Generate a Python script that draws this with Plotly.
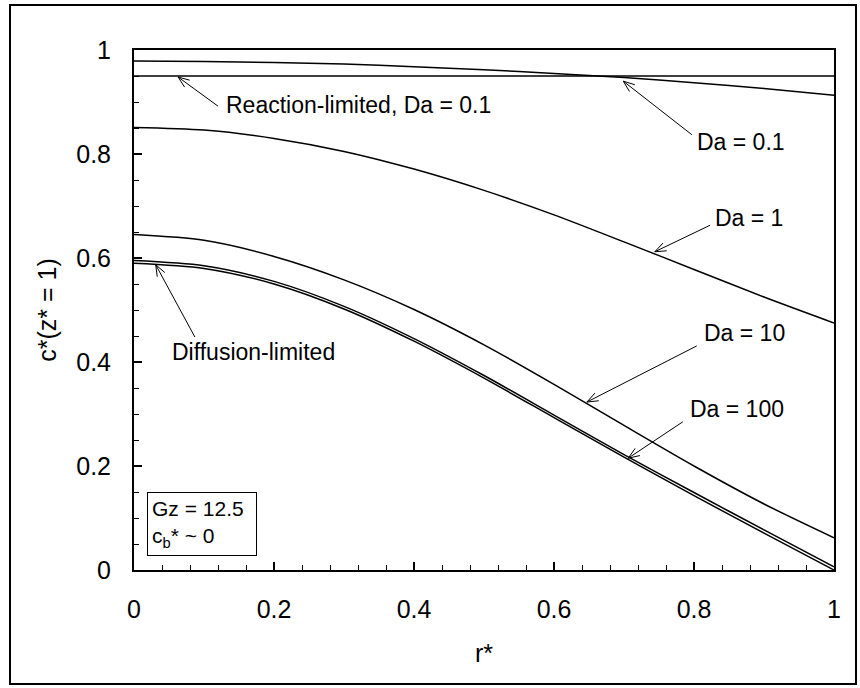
import math
import plotly.graph_objects as go

# ---------------- data ----------------
r_star = [0.0, 0.1, 0.2, 0.3, 0.4, 0.5, 0.6, 0.7, 0.8, 0.9, 1.0]
reaction_limited = [0.95, 0.95, 0.95, 0.95, 0.95, 0.95, 0.95, 0.95, 0.95, 0.95, 0.95]
da_0_1 = [0.979, 0.978, 0.976, 0.973, 0.968, 0.962, 0.955, 0.947, 0.937, 0.926, 0.913]
da_1 = [0.851, 0.846, 0.830, 0.805, 0.771, 0.730, 0.683, 0.631, 0.578, 0.525, 0.475]
da_10 = [0.645, 0.634, 0.603, 0.558, 0.501, 0.433, 0.357, 0.278, 0.200, 0.127, 0.062]
da_100 = [0.595, 0.585, 0.555, 0.507, 0.445, 0.374, 0.298, 0.222, 0.149, 0.077, 0.006]
diffusion_limited = [0.590, 0.580, 0.550, 0.502, 0.440, 0.369, 0.293, 0.217, 0.143, 0.071, 0.0]

x_ticks = [0, 0.2, 0.4, 0.6, 0.8, 1]
x_tick_labels = ["0", "0.2", "0.4", "0.6", "0.8", "1"]
y_ticks = [0, 0.2, 0.4, 0.6, 0.8, 1]
y_tick_labels = ["0", "0.2", "0.4", "0.6", "0.8", "1"]

# annotation labels and their arrows
labels = ["Reaction-limited, Da = 0.1", "Da = 0.1", "Da = 1", "Da = 10", "Da = 100", "Diffusion-limited"]
label_r = [0.128, 0.801, 0.827, 0.811, 0.791, 0.051]
label_c = [0.894, 0.824, 0.676, 0.456, 0.310, 0.419]
tail_r = [0.120, 0.797, 0.823, 0.804, 0.784, 0.087]
tail_c = [0.892, 0.837, 0.663, 0.431, 0.285, 0.448]
tip_r = [0.063, 0.699, 0.744, 0.647, 0.706, 0.031]
tip_c = [0.948, 0.940, 0.612, 0.323, 0.215, 0.587]

box_text = "Gz = 12.5<br>c<sub>b</sub>* ~ 0"

# ---------------- figure ----------------
W, H = 860, 688
L, R, T, B = 134, 26, 50, 118
pw, ph = W - L - R, H - T - B
FONT = "Arial, Liberation Sans, sans-serif"
HEAD_LEN, HEAD_ANG = 12.0, math.radians(21)

fig = go.Figure()
for ys in [reaction_limited, da_0_1, da_1, da_10, da_100, diffusion_limited]:
    fig.add_trace(go.Scatter(x=r_star, y=ys, mode="lines",
                             line=dict(color="black", width=1.5, shape="spline", smoothing=0.8),
                             showlegend=False, hoverinfo="skip"))

annotations = []
for t, lr, lc in zip(labels, label_r, label_c):
    annotations.append(dict(x=lr, y=lc, xref="x", yref="y", text=t, showarrow=False,
                            xanchor="left", yanchor="middle",
                            font=dict(family=FONT, size=23, color="black")))

# arrows: shaft in data coordinates, open V head in pixels anchored at the tip
for ar, ac, xr, xc in zip(tail_r, tail_c, tip_r, tip_c):
    fig.add_shape(type="line", xref="x", yref="y", x0=ar, y0=ac, x1=xr, y1=xc,
                  line=dict(color="black", width=1))
    dx, dy = (ar - xr) * pw, (ac - xc) * ph
    n = math.hypot(dx, dy)
    ux, uy = dx / n, dy / n
    pts = []
    for s in (1, -1):
        ca, sa = math.cos(s * HEAD_ANG), math.sin(s * HEAD_ANG)
        pts.append((HEAD_LEN * (ux * ca - uy * sa), HEAD_LEN * (ux * sa + uy * ca)))
    path = f"M{pts[0][0]:.2f},{pts[0][1]:.2f} L0,0 L{pts[1][0]:.2f},{pts[1][1]:.2f}"
    fig.add_shape(type="path", xref="x", yref="y", xsizemode="pixel", ysizemode="pixel",
                  xanchor=xr, yanchor=xc, path=path, line=dict(color="black", width=1))

annotations.append(dict(x=0.018, y=0.027, xref="x", yref="y", text=box_text, showarrow=False,
                        xanchor="left", yanchor="bottom", align="left", width=100,
                        bordercolor="black", borderwidth=1, borderpad=4, bgcolor="white",
                        font=dict(family=FONT, size=21, color="black")))

fig.add_shape(type="rect", xref="paper", yref="paper",
              x0=(10 - L) / pw, x1=(856 - L) / pw,
              y0=(H - B - 684) / ph, y1=(H - B - 5) / ph,
              line=dict(color="black", width=2), layer="below")

axis_common = dict(showline=True, linecolor="black", linewidth=2, mirror=True,
                   ticks="inside", ticklen=8, tickwidth=1.5, tickcolor="black",
                   showgrid=False, zeroline=False,
                   tickfont=dict(family=FONT, size=25, color="black"))

fig.update_xaxes(range=[0, 1], tickvals=x_ticks, ticktext=x_tick_labels,
                 minor=dict(dtick=0.04, ticks="inside", ticklen=5, tickwidth=1.2, tickcolor="black", showgrid=False),
                 title=dict(text="r*", font=dict(family=FONT, size=25, color="black"), standoff=22),
                 ticklabelstandoff=16, **axis_common)
fig.update_yaxes(range=[0, 1], tickvals=y_ticks, ticktext=y_tick_labels,
                 minor=dict(dtick=0.05, ticks="inside", ticklen=5, tickwidth=1.2, tickcolor="black", showgrid=False),
                 title=dict(text="c*(z* = 1)", font=dict(family=FONT, size=25, color="black"), standoff=12),
                 ticklabelstandoff=16, **axis_common)

fig.update_layout(width=W, height=H, margin=dict(l=L, r=R, t=T, b=B, autoexpand=False),
                  paper_bgcolor="white", plot_bgcolor="white",
                  annotations=annotations, showlegend=False)

fig.write_html("out.html")
